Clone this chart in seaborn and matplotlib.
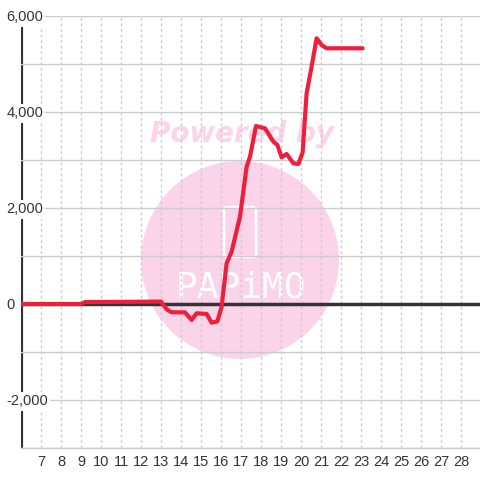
import numpy as np
import pandas as pd
import seaborn as sns
import matplotlib.pyplot as plt
from matplotlib.patches import Ellipse, FancyBboxPatch
from matplotlib.ticker import FixedLocator, MultipleLocator, FuncFormatter

# values
hours = [6.0, 9.0, 9.2, 13.0, 13.28, 13.53, 14.2, 14.53, 14.78, 15.28, 15.53,
         15.82, 16.03, 16.28, 16.53, 16.95, 17.28, 17.45, 17.75, 18.2, 18.62,
         18.82, 19.03, 19.28, 19.62, 19.87, 20.08, 20.28, 20.53, 20.78, 21.03,
         21.28, 23.08]
values = [0, 0, 40, 50, -110, -173, -175, -333, -194, -208, -389,
          -361, -56, 847, 1090, 1819, 2860, 3069, 3708, 3660, 3381,
          3313, 3056, 3125, 2931, 2917, 3152, 4389, 4944, 5535, 5396,
          5327, 5327]
x_ticks = list(range(7, 29))
y_labels = [-2000, 0, 2000, 4000, 6000]

df = pd.DataFrame({'hour': hours, 'value': values})

sns.set_style('whitegrid')
plt.rcParams['font.family'] = ['Liberation Sans', 'DejaVu Sans']

fig = plt.figure(figsize=(4.8, 4.8), dpi=100, facecolor='white')
ax = fig.add_axes([0.04375, 0.0667, 0.95625, 0.9])
ax.set_facecolor('white')

# watermark (axes fraction, drawn under the grid)
pink = '#fbd4ea'
ax.add_patch(Ellipse(((240 - 21) / 459, (448 - 260) / 432), 198 / 459, 198 / 432,
                     transform=ax.transAxes, color=pink, zorder=0.1, lw=0))
ax.add_patch(FancyBboxPatch(((224 - 21) / 459, (448 - 257) / 432), 32 / 459, 50 / 432,
                            boxstyle='round,pad=0,rounding_size=0.008',
                            transform=ax.transAxes, fill=False, ec='white',
                            lw=1.8, zorder=0.15))
ax.text((241 - 21) / 459, (448 - 288) / 432, 'PAPiMO', transform=ax.transAxes,
        ha='center', va='center', color='white', fontsize=26,
        family='DejaVu Sans Mono', zorder=0.15)
ax.text((242 - 21) / 459, (448 - 134) / 432, 'Powered by', transform=ax.transAxes,
        ha='center', va='center', color=pink, fontsize=20,
        family='DejaVu Sans', fontweight='bold', style='italic', zorder=0.15)

# the line
sns.lineplot(data=df, x='hour', y='value', ax=ax, color='#ee1f3b', lw=3,
             zorder=3)

ax.set_xlim(6, 28.95)
ax.set_ylim(-3000, 6000)
ax.xaxis.set_major_locator(FixedLocator(x_ticks))
ax.yaxis.set_major_locator(FixedLocator(y_labels))
ax.yaxis.set_minor_locator(MultipleLocator(1000))
ax.yaxis.set_major_formatter(FuncFormatter(lambda v, p: f'{int(v):,}'))

ax.grid(False)
ax.yaxis.grid(True, which='both', color='#cccccc', lw=1, ls='-')
ax.xaxis.grid(True, which='major', color='#cccccc', lw=1, ls=(0, (2, 2)))
ax.set_axisbelow(True)

ax.tick_params(axis='y', which='both', length=0, pad=10.5, labelsize=10.5,
               labelcolor='#333333')
ax.tick_params(axis='x', length=0, pad=5, labelsize=10.5, labelcolor='#333333')
for t in ax.get_yticklabels():
    t.set_horizontalalignment('left')
    t.set_bbox(dict(facecolor='white', edgecolor='none', pad=1.5))

for s in ['top', 'right', 'left']:
    ax.spines[s].set_visible(False)
ax.spines['bottom'].set_color('#cccccc')
ax.spines['bottom'].set_linewidth(1)

# left axis line and zero line
ax.axvline(6, color='#333333', lw=3, zorder=0.3)
ax.axhline(0, color='#333333', lw=2.5, zorder=1)

ax.set_xlabel('')
ax.set_ylabel('')

plt.savefig('out.png', dpi=100, facecolor='white')
